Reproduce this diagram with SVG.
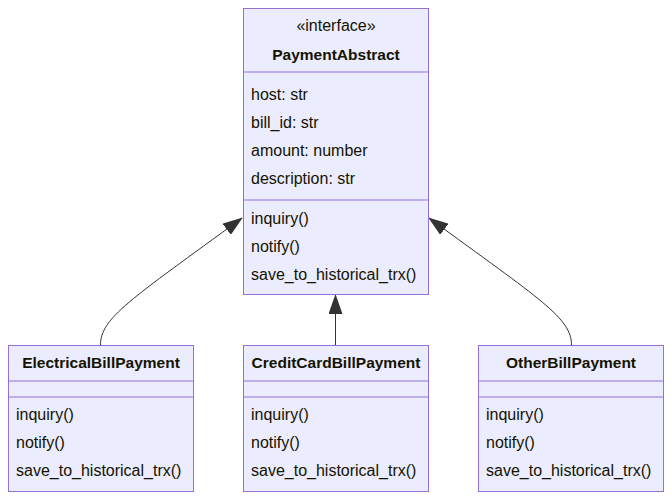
<svg xmlns="http://www.w3.org/2000/svg" width="672" height="500" viewBox="0 0 672 500">
  <style>
    .box { fill: #ECECFF; stroke: #9370DB; stroke-width: 1; }
    .div { stroke: #9370DB; stroke-width: 1; }
    text { font-family: "Liberation Sans", Arial, sans-serif; font-size: 16px; fill: #131300; }
    .title { font-weight: bold; font-size: 15.5px; text-anchor: middle; }
    .stereo { text-anchor: middle; }
    .edge { fill: none; stroke: #333333; stroke-width: 1; }
  </style>
  <defs>
    <marker id="extends" viewBox="0 0 20 14" refX="19" refY="7" markerWidth="20" markerHeight="14" markerUnits="userSpaceOnUse" orient="auto">
      <path d="M0,0 L20,7 L0,14 Z" fill="#333333"/>
    </marker>
  </defs>
  <rect width="672" height="500" fill="#ffffff"/>

  <g id="connectors">
    <path class="edge" d="M100.5,345 C100.5,318 130,300 242,218" marker-end="url(#extends)"/>
    <path class="edge" d="M335.5,345 L335.5,295" marker-end="url(#extends)"/>
    <path class="edge" d="M571.5,345 C571.5,318 541,300 429,218" marker-end="url(#extends)"/>
  </g>

  <g id="PaymentAbstract">
    <rect class="box" x="243.5" y="8.5" width="185" height="286"/>
    <line class="div" x1="243.5" y1="72" x2="428.5" y2="72"/>
    <line class="div" x1="243.5" y1="200" x2="428.5" y2="200"/>
    <text class="stereo" x="336" y="31">«interface»</text>
    <text class="title" x="336" y="60">PaymentAbstract</text>
    <text x="251" y="100">host: str</text>
    <text x="251" y="128">bill_id: str</text>
    <text x="251" y="156">amount: number</text>
    <text x="251" y="184">description: str</text>
    <text x="251" y="224">inquiry()</text>
    <text x="251" y="252">notify()</text>
    <text x="251" y="280">save_to_historical_trx()</text>
  </g>

  <g id="ElectricalBillPayment">
    <rect class="box" x="8.5" y="345.5" width="185" height="146"/>
    <line class="div" x1="8.5" y1="381" x2="193.5" y2="381"/>
    <line class="div" x1="8.5" y1="397" x2="193.5" y2="397"/>
    <text class="title" x="101" y="368">ElectricalBillPayment</text>
    <text x="16" y="420">inquiry()</text>
    <text x="16" y="448">notify()</text>
    <text x="16" y="476">save_to_historical_trx()</text>
  </g>

  <g id="CreditCardBillPayment">
    <rect class="box" x="243.5" y="345.5" width="185" height="146"/>
    <line class="div" x1="243.5" y1="381" x2="428.5" y2="381"/>
    <line class="div" x1="243.5" y1="397" x2="428.5" y2="397"/>
    <text class="title" x="336" y="368">CreditCardBillPayment</text>
    <text x="251" y="420">inquiry()</text>
    <text x="251" y="448">notify()</text>
    <text x="251" y="476">save_to_historical_trx()</text>
  </g>

  <g id="OtherBillPayment">
    <rect class="box" x="478.5" y="345.5" width="185" height="146"/>
    <line class="div" x1="478.5" y1="381" x2="663.5" y2="381"/>
    <line class="div" x1="478.5" y1="397" x2="663.5" y2="397"/>
    <text class="title" x="571" y="368">OtherBillPayment</text>
    <text x="486" y="420">inquiry()</text>
    <text x="486" y="448">notify()</text>
    <text x="486" y="476">save_to_historical_trx()</text>
  </g>
</svg>
